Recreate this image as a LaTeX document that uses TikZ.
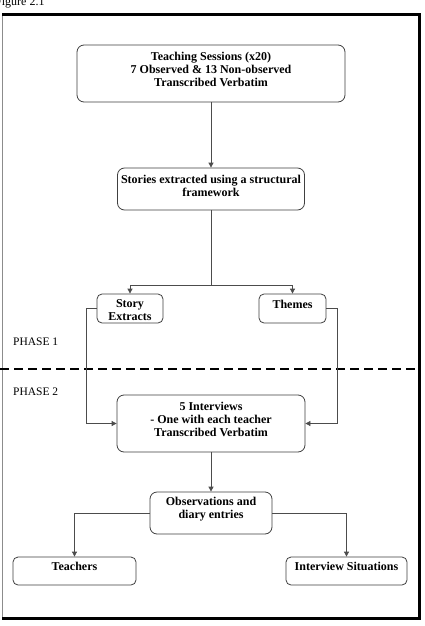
\documentclass[tikz,border=0pt]{standalone}
\usepackage{fontspec}
\setmainfont{Liberation Serif}
\usetikzlibrary{arrows.meta}
\begin{document}
\begin{tikzpicture}[x=1pt,y=-1pt,
  box/.style={draw=black!75, line width=0.8pt, rounded corners=7pt, inner sep=0pt},
  sbox/.style={box, rounded corners=5pt},
  txt/.style={font=\bfseries\fontsize{12}{13}\selectfont, align=center, inner sep=0pt},
  conn/.style={draw=black!70, line width=0.8pt},
  arr/.style={conn, -{Triangle[width=5pt,length=5pt]}},
  phase/.style={font=\fontsize{11.5}{13}\selectfont, anchor=west, inner sep=0pt}]
\useasboundingbox (0,0) rectangle (425,626);
\fill[white] (0,0) rectangle (425,626);
% caption
\node[anchor=base west, inner sep=0pt, font=\fontsize{12}{13}\selectfont] (fig) at (-5,5.5) {Figure 2.1};
% frame
\draw[black!45, line width=1pt] (2.5,14) -- (2.5,619);
\draw[line width=3pt, line join=miter] (2,14.5) -- (419.5,14.5) -- (419.5,618.5) -- (2,618.5);
% phase divider
\draw[line width=2.5pt, dash pattern=on 9pt off 5pt] (0,369) -- (418,369);
\node[phase] (p1) at (13,342) {PHASE 1};
\node[phase] (p2) at (13,392) {PHASE 2};
% boxes
\node[box, minimum width=268pt, minimum height=57pt] (top) at (211,73.5) {};
\node[txt] (topT) at (211,69.5) {Teaching Sessions (x20)\\7 Observed \& 13 Non-observed\\Transcribed Verbatim};
\node[box, minimum width=187pt, minimum height=42pt] (stories) at (211,189) {};
\node[txt] (storiesT) at (211,185.5) {Stories extracted using a structural\\framework};
\node[sbox, minimum width=66pt, minimum height=29pt] (story) at (130,308.5) {};
\node[txt] (storyT) at (130,310) {Story\\Extracts};
\node[sbox, minimum width=67pt, minimum height=29pt] (themes) at (292.5,308.5) {};
\node[txt] (themesT) at (292.5,304) {Themes};
\node[box, minimum width=188pt, minimum height=57pt] (interviews) at (211,423.5) {};
\node[txt] (interviewsT) at (211,419.5) {5 Interviews\\- One with each teacher\\Transcribed Verbatim};
\node[box, minimum width=122pt, minimum height=42pt] (obs) at (211,513) {};
\node[txt] (obsT) at (211,509) {Observations and\\diary entries};
\node[sbox, minimum width=123pt, minimum height=28pt] (teachers) at (74.5,571) {};
\node[txt] (teachersT) at (74.5,566) {Teachers};
\node[sbox, minimum width=121pt, minimum height=28pt] (situations) at (346.5,571) {};
\node[txt] (situationsT) at (346.5,566) {Interview Situations};
% connectors
\draw[arr] (top.south) -- (stories.north);
\coordinate (branch) at (211,285);
\draw[conn] (stories.south) -- (branch);
\draw[arr] (branch) -| (story.north);
\draw[arr] (branch) -| (themes.north);
\draw[arr] (story.west) -- ++(-10,0) |- (interviews.west);
\draw[arr] (themes.east) -- ++(11,0) |- (interviews.east);
\draw[arr] (interviews.south) -- (obs.north);
\draw[arr] (obs.west) -| (teachers.north);
\draw[arr] (obs.east) -| (situations.north);
\end{tikzpicture}
\end{document}
